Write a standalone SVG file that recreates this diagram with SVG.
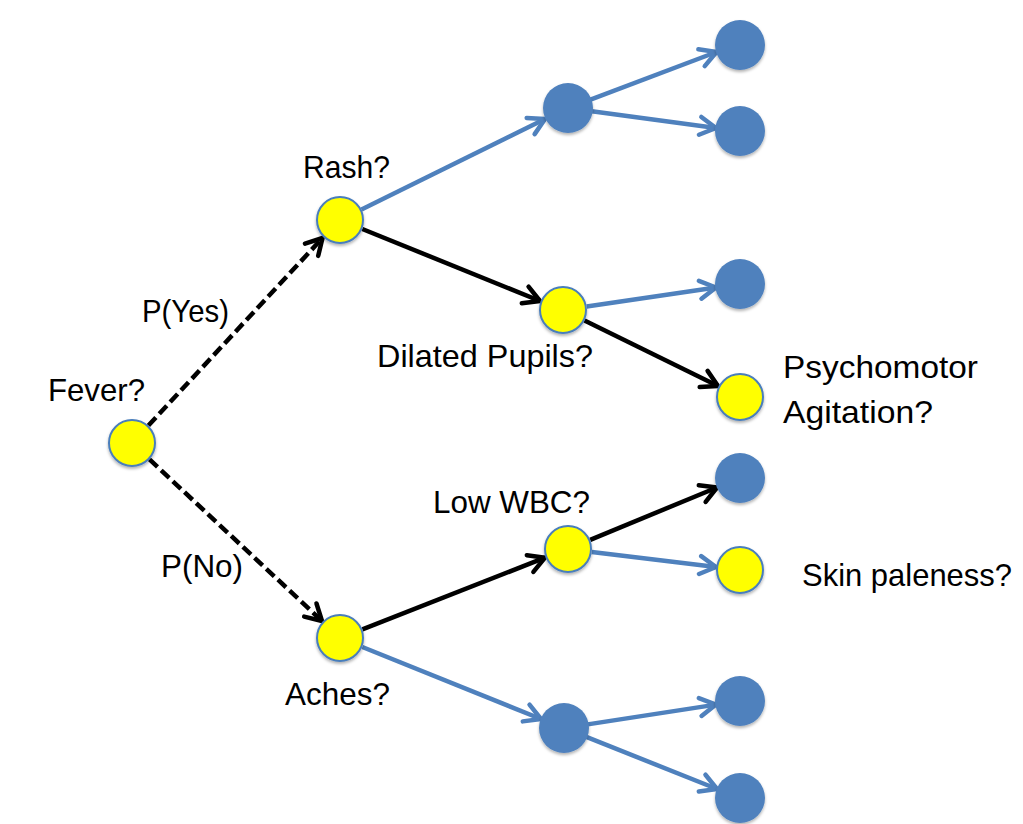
<svg xmlns="http://www.w3.org/2000/svg" width="1023" height="824" viewBox="0 0 1023 824">
<style>
.y{fill:#ffff00;stroke:#4a7ebb;stroke-width:2;filter:url(#sh)}
.b{fill:#4f81bd;filter:url(#sh)}
.eb{stroke:#4f81bd;stroke-width:4.5;fill:none;marker-end:url(#ab)}
.ek{stroke:#000;stroke-width:4.5;fill:none;marker-end:url(#ak)}
.ed{stroke:#000;stroke-width:4.5;fill:none;stroke-dasharray:11 5;marker-end:url(#ak)}
text{font-family:"Liberation Sans",Arial,sans-serif;font-size:32px;fill:#000}
</style>
<defs>
<filter id="sh" x="-30%" y="-30%" width="160%" height="160%">
<feDropShadow dx="0" dy="2" stdDeviation="1.5" flood-color="#000" flood-opacity="0.3"/>
</filter>
<marker id="ab" viewBox="0 0 24 24" refX="21" refY="12" markerWidth="24" markerHeight="24" markerUnits="userSpaceOnUse" orient="auto">
<path d="M5,3 L21,12 L5,21" fill="none" stroke="#4f81bd" stroke-width="4.5" stroke-linecap="round" stroke-linejoin="round"/>
</marker>
<marker id="ak" viewBox="0 0 24 24" refX="21" refY="12" markerWidth="24" markerHeight="24" markerUnits="userSpaceOnUse" orient="auto">
<path d="M5,3 L21,12 L5,21" fill="none" stroke="#000" stroke-width="4.5" stroke-linecap="round" stroke-linejoin="round"/>
</marker>
</defs>
<rect width="1023" height="824" fill="#fff"/>
<g id="connectors">
<line class="ed" x1="148.4" y1="425.5" x2="322.5" y2="238"/>
<line class="ed" x1="149.5" y1="459.4" x2="322" y2="621"/>
<line class="eb" x1="361.5" y1="209.4" x2="545" y2="119"/>
<line class="ek" x1="362.3" y1="229" x2="540" y2="301"/>
<line class="eb" x1="590.5" y1="99.7" x2="716.5" y2="52"/>
<line class="eb" x1="591.8" y1="111.2" x2="716" y2="128"/>
<line class="eb" x1="586.7" y1="306.5" x2="716" y2="287.5"/>
<line class="ek" x1="584.5" y1="320.6" x2="718" y2="386"/>
<line class="ek" x1="362.4" y1="629.3" x2="545" y2="557.7"/>
<line class="eb" x1="362.3" y1="647" x2="541" y2="719"/>
<line class="ek" x1="590.2" y1="539.8" x2="717" y2="487.5"/>
<line class="eb" x1="591.8" y1="551.9" x2="716" y2="567"/>
<line class="eb" x1="587.7" y1="724.4" x2="716" y2="704.6"/>
<line class="eb" x1="586.3" y1="736.9" x2="717" y2="789"/>
<text x="142" y="322" textLength="87" lengthAdjust="spacingAndGlyphs">P(Yes)</text>
<text x="161" y="577" textLength="82" lengthAdjust="spacingAndGlyphs">P(No)</text>
</g>
<g id="fever"><circle class="y" cx="132" cy="443" r="23"/><text x="48" y="401" textLength="97" lengthAdjust="spacingAndGlyphs">Fever?</text></g>
<g id="rash"><circle class="y" cx="340" cy="220" r="23"/><text x="303" y="178" textLength="87" lengthAdjust="spacingAndGlyphs">Rash?</text></g>
<g id="dilated"><circle class="y" cx="563" cy="310" r="23"/><text x="377" y="367" textLength="216" lengthAdjust="spacingAndGlyphs">Dilated Pupils?</text></g>
<g id="psychomotor"><circle class="y" cx="740" cy="397" r="23"/><text x="783" y="378" textLength="195" lengthAdjust="spacingAndGlyphs">Psychomotor</text><text x="783" y="423" textLength="150" lengthAdjust="spacingAndGlyphs">Agitation?</text></g>
<g id="aches"><circle class="y" cx="340" cy="638" r="23"/><text x="285" y="705" textLength="105" lengthAdjust="spacingAndGlyphs">Aches?</text></g>
<g id="lowwbc"><circle class="y" cx="568" cy="549" r="23"/><text x="433" y="513" textLength="157" lengthAdjust="spacingAndGlyphs">Low WBC?</text></g>
<g id="skin"><circle class="y" cx="740" cy="570" r="23"/><text x="802" y="586" textLength="210" lengthAdjust="spacingAndGlyphs">Skin paleness?</text></g>
<g id="mid-top"><circle class="b" cx="568" cy="108" r="25"/></g>
<g id="leaf-1"><circle class="b" cx="740" cy="45" r="25"/></g>
<g id="leaf-2"><circle class="b" cx="740" cy="131" r="25"/></g>
<g id="leaf-3"><circle class="b" cx="740" cy="284" r="25"/></g>
<g id="leaf-4"><circle class="b" cx="740" cy="478" r="25"/></g>
<g id="mid-bottom"><circle class="b" cx="564" cy="728" r="25"/></g>
<g id="leaf-5"><circle class="b" cx="740" cy="701" r="25"/></g>
<g id="leaf-6"><circle class="b" cx="740" cy="798" r="25"/></g>
</svg>
